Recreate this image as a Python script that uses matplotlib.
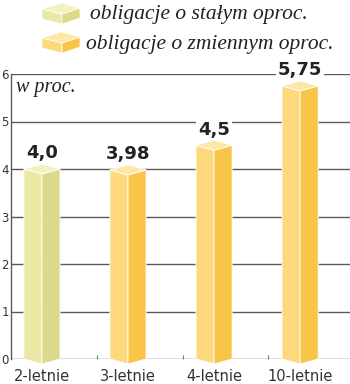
import matplotlib
matplotlib.use("Agg")
import matplotlib.pyplot as plt
from matplotlib.patches import Polygon

categories = ["2-letnie", "3-letnie", "4-letnie", "10-letnie"]
values = [4.0, 3.98, 4.5, 5.75]
value_labels = ["4,0", "3,98", "4,5", "5,75"]
series_type = ["stały", "zmienny", "zmienny", "zmienny"]
legend_labels = ["obligacje o stałym oproc.", "obligacje o zmiennym oproc."]
y_ticks = [0, 1, 2, 3, 4, 5, 6]

colors = {
    "stały": {"left": "#ebe8a4", "right": "#ddd98a", "top": "#f3f1c0"},
    "zmienny": {"left": "#fdd97c", "right": "#f9c548", "top": "#fee6a6"},
}

W, H = 350, 384
fig = plt.figure(figsize=(W / 100, H / 100), dpi=100)

# main axes
ax_left, ax_right = 11, 350
y0_px, y6_px = 359, 74
ax = fig.add_axes([ax_left / W, (H - y0_px) / H, (ax_right - ax_left) / W, (y0_px - y6_px) / H])
ax.set_ylim(0, 6)
ax.set_xlim(-0.36, 3.58)

unit_px = (y0_px - y6_px) / 6.0
w = 0.21
d = 5.0 / unit_px

for yv in y_ticks:
    ax.axhline(yv, color="#5a5a5a", lw=1.0, zorder=1)

for i, (v, s) in enumerate(zip(values, series_type)):
    c = colors[s]
    left = Polygon([(i - w, v), (i, v - d), (i, -d), (i - w, 0)], closed=True,
                   facecolor=c["left"], edgecolor="white", lw=0.6, zorder=3, clip_on=False)
    right = Polygon([(i, v - d), (i + w, v), (i + w, 0), (i, -d)], closed=True,
                    facecolor=c["right"], edgecolor="white", lw=0.6, zorder=3, clip_on=False)
    top = Polygon([(i - w, v), (i, v - d), (i + w, v), (i, v + d)], closed=True,
                  facecolor=c["top"], edgecolor="white", lw=0.6, zorder=4, clip_on=False)
    for p in (left, right, top):
        ax.add_patch(p)
    ax.text(i, v + d + 0.12, value_labels[i], ha="center", va="baseline",
            fontsize=13, fontweight="bold", color="#222222", zorder=5,
            bbox=dict(boxstyle="square,pad=0.1", fc="white", ec="none"))

ax.set_yticks(y_ticks)
ax.set_yticklabels([str(t) for t in y_ticks], fontsize=8.5, color="#333333")
ax.tick_params(axis="y", length=0, pad=1.5)
ax.set_xticks(range(len(categories)))
ax.set_xticklabels(categories, fontsize=10.5, color="#333333")
ax.tick_params(axis="x", length=0, pad=7)
ax.set_xticks([0.64, 1.64, 2.63], minor=True)
ax.tick_params(axis="x", which="minor", direction="in", length=3, color="#777777", width=0.8)

for sp in ["top", "right", "bottom"]:
    ax.spines[sp].set_visible(False)
ax.spines["left"].set_color("#5a5a5a")
ax.spines["left"].set_linewidth(1.0)
ax.patch.set_alpha(0)

ax.text(0.015, 0.985, "w proc.", transform=ax.transAxes, ha="left", va="top",
        fontsize=14.5, fontstyle="italic", family="Liberation Serif", color="#222222")

# legend overlay in pixel coords
lg = fig.add_axes([0, 0, 1, 1])
lg.set_xlim(0, W)
lg.set_ylim(H, 0)
lg.axis("off")
lg.patch.set_alpha(0)

def cube(x0, y0, c):
    # isometric box: left vertex, back vertex, right vertex, front vertex
    L = (x0, y0 + 6)
    B = (x0 + 19, y0)
    R = (x0 + 38, y0 + 5)
    F = (x0 + 20, y0 + 11)
    h = 10
    Lb = (L[0], L[1] + h)
    Fb = (F[0], F[1] + h)
    Rb = (R[0], R[1] + h)
    lg.add_patch(Polygon([L, F, Fb, Lb], facecolor=c["left"], edgecolor="white", lw=0.5))
    lg.add_patch(Polygon([F, R, Rb, Fb], facecolor=c["right"], edgecolor="white", lw=0.5))
    lg.add_patch(Polygon([L, B, R, F], facecolor=c["top"], edgecolor="white", lw=0.5))

cube(42, 3, colors["stały"])
cube(42, 32, colors["zmienny"])
lg.text(90, 15, legend_labels[0], ha="left", va="center", fontsize=15.5,
        fontstyle="italic", family="Liberation Serif", color="#222222")
lg.text(86, 45, legend_labels[1], ha="left", va="center", fontsize=15.5,
        fontstyle="italic", family="Liberation Serif", color="#222222")

fig.savefig("out.png", dpi=100, facecolor="white")
